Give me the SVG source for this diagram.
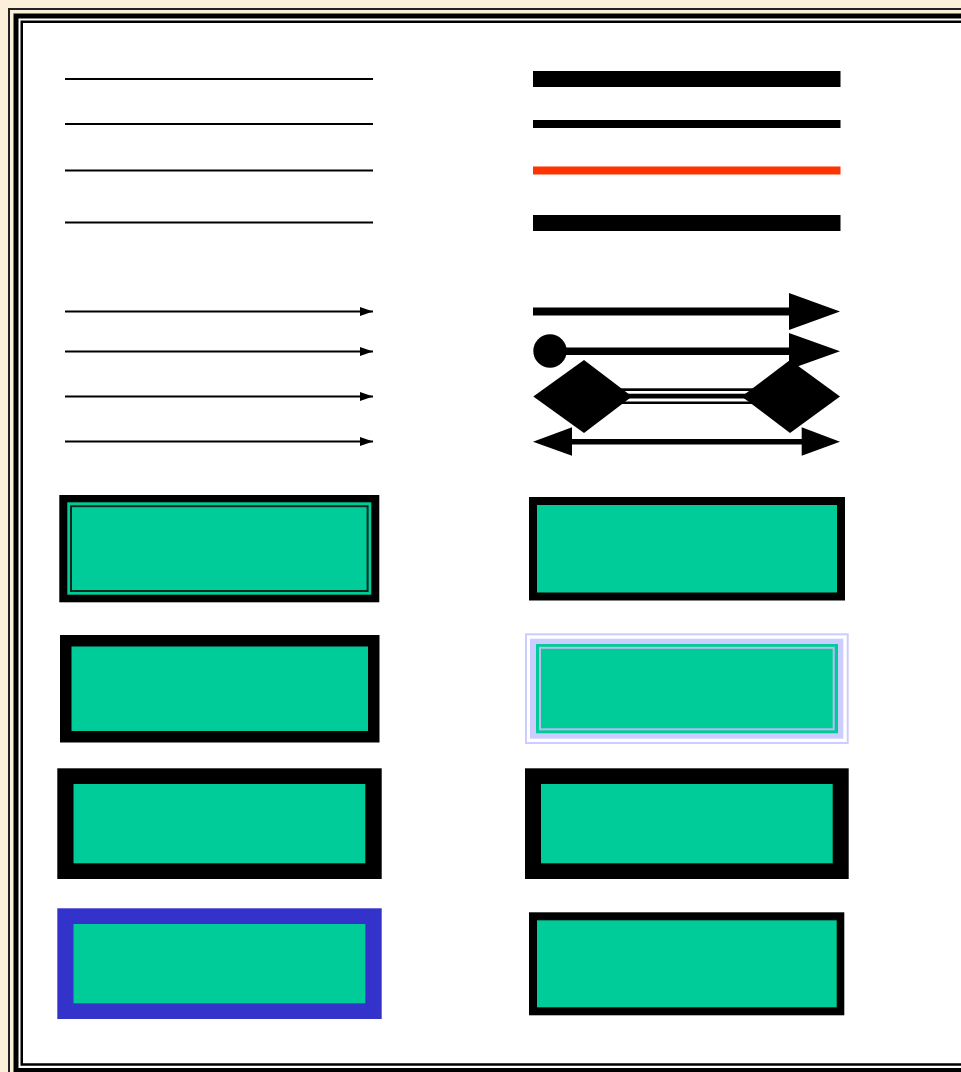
<svg xmlns="http://www.w3.org/2000/svg" width="961" height="1072" viewBox="0 0 961 1072">
<style>
.thin{stroke:#000;stroke-width:2;fill:none}
.box{fill:#00CC99}
</style>
<defs>
<marker id="ah" markerWidth="13" markerHeight="9" refX="13" refY="4.5" orient="auto" markerUnits="userSpaceOnUse">
<path d="M0,0 L13,4.5 L0,9 Z" fill="#000"/>
</marker>
</defs>
<rect x="0" y="0" width="961" height="1072" fill="#FCEFD9"/>
<g id="frame">
<rect x="9" y="9" width="1000" height="1100" fill="none" stroke="#222" stroke-width="2"/>
<rect x="16" y="16" width="1000" height="1054.5" fill="#fff" stroke="#000" stroke-width="5"/>
<rect x="21.75" y="21.75" width="1000" height="1042.75" fill="#fff" stroke="#000" stroke-width="2.5"/>
</g>
<g id="connectors">
<line class="thin" x1="65" y1="79" x2="373" y2="79"/>
<line class="thin" x1="65" y1="124" x2="373" y2="124"/>
<line class="thin" x1="65" y1="170.5" x2="373" y2="170.5"/>
<line class="thin" x1="65" y1="222.5" x2="373" y2="222.5"/>
<rect x="533" y="71" width="307.5" height="16" fill="#000"/>
<rect x="533" y="120" width="307.5" height="8" fill="#000"/>
<rect x="533" y="166.5" width="307.5" height="8" fill="#FF3300"/>
<rect x="533" y="215" width="307.5" height="16" fill="#000"/>
<line class="thin" x1="65" y1="311.5" x2="373" y2="311.5" marker-end="url(#ah)"/>
<line class="thin" x1="65" y1="351.5" x2="373" y2="351.5" marker-end="url(#ah)"/>
<line class="thin" x1="65" y1="396.5" x2="373" y2="396.5" marker-end="url(#ah)"/>
<line class="thin" x1="65" y1="441.5" x2="373" y2="441.5" marker-end="url(#ah)"/>
<rect x="533" y="307.5" width="257" height="8" fill="#000"/>
<polygon points="789,293 840,311.5 789,330" fill="#000"/>
<rect x="550" y="347.5" width="240" height="7.5" fill="#000"/>
<circle cx="550" cy="351" r="16.7" fill="#000"/>
<polygon points="789,333 840,351.3 789,369.5" fill="#000"/>
<rect x="620" y="388.3" width="135" height="15.7" fill="#000"/>
<rect x="620" y="391" width="135" height="2.7" fill="#fff"/>
<rect x="620" y="398.5" width="135" height="3" fill="#fff"/>
<polygon points="533.3,396.5 584,360 632,396.5 584,433" fill="#000"/>
<polygon points="741.7,396.5 790,360 840,396.5 790,433" fill="#000"/>
<rect x="571" y="439" width="232" height="5.5" fill="#000"/>
<polygon points="533,441.7 572,427.3 572,455.7" fill="#000"/>
<polygon points="840,441.7 801.7,427.3 801.7,455.7" fill="#000"/>
</g>
<g id="box-l1">
<rect x="59.3" y="495" width="320" height="107.3" fill="#000"/>
<rect x="67.3" y="502.3" width="304" height="92.4" class="box"/>
<rect x="71" y="506.2" width="296.6" height="84.8" class="box" stroke="#0a2a20" stroke-width="2"/>
</g>
<g id="box-r1">
<rect x="529" y="497" width="316" height="103.5" fill="#000"/>
<rect x="537" y="505" width="300" height="87.5" class="box"/>
</g>
<g id="box-l2">
<rect x="60" y="635" width="319.5" height="107.5" fill="#000"/>
<rect x="71.5" y="646.5" width="296.5" height="84.5" class="box"/>
</g>
<g id="box-r2">
<rect x="526" y="634.3" width="321.7" height="108.7" fill="none" stroke="#CCCCFF" stroke-width="2"/>
<rect x="530" y="638.7" width="313.3" height="100" fill="#CCCCFF"/>
<rect x="536" y="644" width="302" height="89.3" class="box"/>
<rect x="540" y="647.8" width="293.7" height="81.5" class="box" stroke="#BBBBEE" stroke-width="2"/>
</g>
<g id="box-l3">
<rect x="57.3" y="768.3" width="324.4" height="110.7" fill="#000"/>
<rect x="73.5" y="784" width="291.8" height="79.3" class="box"/>
</g>
<g id="box-r3">
<rect x="525" y="768.3" width="323.7" height="110.7" fill="#000"/>
<rect x="541" y="784" width="291.7" height="79.3" class="box"/>
</g>
<g id="box-l4">
<rect x="57.3" y="908.3" width="324.4" height="110.7" fill="#3333CC"/>
<rect x="73.5" y="924" width="291.8" height="79.3" class="box"/>
</g>
<g id="box-r4">
<rect x="529" y="912.3" width="315.3" height="103" fill="#000"/>
<rect x="537" y="920.3" width="299.7" height="87" class="box"/>
</g>
</svg>
